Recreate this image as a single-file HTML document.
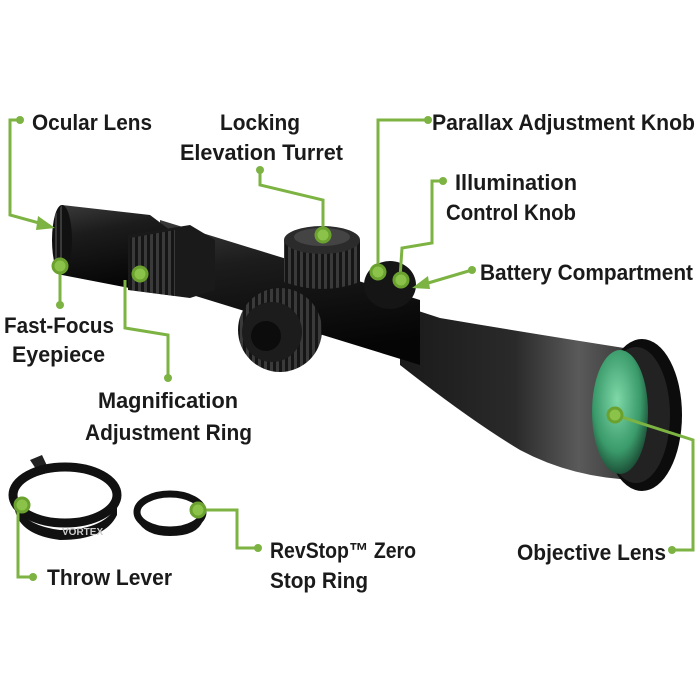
<!DOCTYPE html>
<html><head><meta charset="utf-8"><style>
html,body{margin:0;padding:0;background:#fff;}
svg{display:block}
text{font-family:"Liberation Sans Narrow","Liberation Sans",sans-serif;font-weight:bold;font-size:22px;fill:#1a1a1a}
</style></head><body>
<svg width="700" height="700" viewBox="0 0 700 700" xmlns="http://www.w3.org/2000/svg">
<defs>
<linearGradient id="tube" x1="0" y1="0" x2="0.25" y2="1">
<stop offset="0" stop-color="#3a3a3a"/><stop offset="0.35" stop-color="#1c1c1c"/><stop offset="1" stop-color="#050505"/>
</linearGradient>
<linearGradient id="bell" x1="0" y1="0" x2="1" y2="0">
<stop offset="0" stop-color="#1a1a1a"/><stop offset="0.45" stop-color="#2a2a2a"/><stop offset="0.7" stop-color="#5a5a5a"/><stop offset="1" stop-color="#2a2a2a"/>
</linearGradient>
<radialGradient id="lens" cx="0.45" cy="0.4" r="0.7">
<stop offset="0" stop-color="#7fd8a8"/><stop offset="0.6" stop-color="#3a9a6a"/><stop offset="1" stop-color="#0d2b1e"/>
</radialGradient>
<pattern id="knurl" width="6" height="6" patternUnits="userSpaceOnUse">
<rect width="6" height="6" fill="#151515"/><rect width="3" height="6" fill="#3a3a3a"/>
</pattern>
</defs>

<!-- objective bell -->
<path d="M400,305 L440,318 Q540,335 650,352 L655,480 Q580,482 520,450 Q470,420 400,365 Z" fill="url(#bell)"/>
<!-- main tube -->
<path d="M160,220 L420,300 L420,365 L160,285 Z" fill="url(#tube)"/>
<!-- eyepiece body -->
<path d="M62,205 L150,215 L170,230 L170,290 L150,292 L62,275 Z" fill="url(#tube)"/>
<ellipse cx="62" cy="240" rx="10" ry="35" fill="#111"/>
<path d="M55,215 L62,205 L62,275 L55,265 Z" fill="url(#knurl)"/>
<!-- mag ring -->
<path d="M128,235 L190,225 L215,240 L215,290 L190,298 L128,290 Z" fill="#1a1a1a"/>
<path d="M130,238 L175,230 L175,296 L130,290 Z" fill="url(#knurl)"/>
<!-- elevation turret -->
<path d="M284,240 L360,240 L360,282 Q322,296 284,282 Z" fill="url(#knurl)"/>
<ellipse cx="322" cy="240" rx="38" ry="14" fill="#2b2b2b"/>
<ellipse cx="322" cy="237" rx="28" ry="9" fill="#444"/>
<!-- windage knob -->
<circle cx="280" cy="330" r="42" fill="url(#knurl)"/>
<circle cx="272" cy="332" r="30" fill="#1c1c1c"/>
<circle cx="266" cy="336" r="15" fill="#0c0c0c"/>
<!-- side knobs -->
<ellipse cx="390" cy="285" rx="26" ry="24" fill="#151515"/>
<!-- objective rim & lens -->
<ellipse cx="642" cy="415" rx="40" ry="76" fill="#0c0c0c"/>
<ellipse cx="636" cy="415" rx="34" ry="68" fill="#222"/>
<ellipse cx="620" cy="412" rx="28" ry="62" fill="url(#lens)"/>

<!-- throw lever -->
<path d="M30,460 L42,455 L50,472 L40,475 Z" fill="#222"/>
<ellipse cx="65" cy="495" rx="52" ry="28" fill="none" stroke="#111" stroke-width="9"/>
<path d="M15,500 Q20,525 60,530 Q105,530 117,505 L117,515 Q105,540 60,540 Q20,535 15,510 Z" fill="#111"/>
<text x="62" y="535" style="font-size:10px;fill:#ccc">VORTEX</text>
<!-- revstop ring -->
<ellipse cx="170" cy="512" rx="33" ry="18" fill="none" stroke="#111" stroke-width="7"/>
<path d="M137,512 L137,520 Q145,536 170,536 Q198,536 203,520 L203,512 Q198,530 170,530 Q145,530 137,512 Z" fill="#111"/>

<g stroke="#7cb342" stroke-width="3" fill="none">
<polyline points="20,120 10,120 10,215 50,226"/>
<polyline points="260,170 260,185 323,200 323,235"/>
<polyline points="428,120 378,120 378,270"/>
<polyline points="443,181 432,181 432,243 402,248 400,278"/>
<polyline points="472,270 418,286"/>
<polyline points="60,266 60,305"/>
<polyline points="125,280 125,328 168,335 168,378"/>
<polyline points="615,415 693,440 693,550 672,550"/>
<polyline points="18,505 18,577 33,577"/>
<polyline points="198,510 237,510 237,548 258,548"/>
</g>
<g fill="#7cb342">
<circle cx="20" cy="120" r="4"/><circle cx="260" cy="170" r="4"/><circle cx="428" cy="120" r="4"/>
<circle cx="443" cy="181" r="4"/><circle cx="472" cy="270" r="4"/><circle cx="60" cy="305" r="4"/>
<circle cx="168" cy="378" r="4"/><circle cx="672" cy="550" r="4"/><circle cx="33" cy="577" r="4"/><circle cx="258" cy="548" r="4"/>
<polygon points="55,228 38,216 36,230"/>
<polygon points="412,288 428,276 430,289"/>
</g>
<g fill="#8bc34a" stroke="#6aa12f" stroke-width="3">
<circle cx="323" cy="235" r="7"/><circle cx="378" cy="272" r="7"/><circle cx="401" cy="280" r="7"/>
<circle cx="60" cy="266" r="7"/><circle cx="140" cy="274" r="7"/><circle cx="615" cy="415" r="7"/>
<circle cx="22" cy="505" r="7"/><circle cx="198" cy="510" r="7"/>
</g>

<text x="32" y="130" textLength="120" lengthAdjust="spacingAndGlyphs">Ocular Lens</text>
<text x="220" y="130" textLength="80" lengthAdjust="spacingAndGlyphs">Locking</text>
<text x="180" y="160" textLength="163" lengthAdjust="spacingAndGlyphs">Elevation Turret</text>
<text x="432" y="130" textLength="263" lengthAdjust="spacingAndGlyphs">Parallax Adjustment Knob</text>
<text x="455" y="190" textLength="122" lengthAdjust="spacingAndGlyphs">Illumination</text>
<text x="446" y="220" textLength="130" lengthAdjust="spacingAndGlyphs">Control Knob</text>
<text x="480" y="280" textLength="213" lengthAdjust="spacingAndGlyphs">Battery Compartment</text>
<text x="4" y="333" textLength="110" lengthAdjust="spacingAndGlyphs">Fast-Focus</text>
<text x="12" y="362" textLength="93" lengthAdjust="spacingAndGlyphs">Eyepiece</text>
<text x="98" y="408" textLength="140" lengthAdjust="spacingAndGlyphs">Magnification</text>
<text x="85" y="440" textLength="167" lengthAdjust="spacingAndGlyphs">Adjustment Ring</text>
<text x="517" y="560" textLength="149" lengthAdjust="spacingAndGlyphs">Objective Lens</text>
<text x="47" y="585" textLength="125" lengthAdjust="spacingAndGlyphs">Throw Lever</text>
<text x="270" y="558" textLength="146" lengthAdjust="spacingAndGlyphs">RevStop™ Zero</text>
<text x="270" y="588" textLength="98" lengthAdjust="spacingAndGlyphs">Stop Ring</text>
</svg>
</body></html>
